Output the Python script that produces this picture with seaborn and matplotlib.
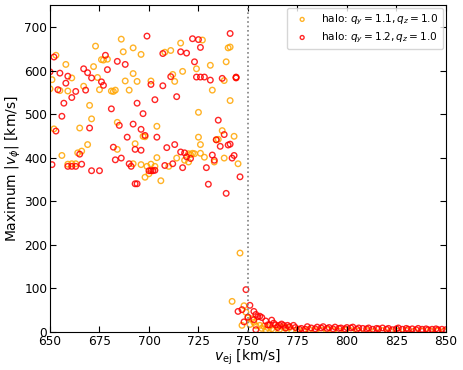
import numpy as np
import matplotlib
matplotlib.use("Agg")
import matplotlib.pyplot as plt
import seaborn as sns

# halo q_y = 1.1, q_z = 1.0  (orange)
v_ej_q11 = [650, 651, 653, 655, 658, 661, 659, 652, 656, 665, 664, 666, 659, 661, 663,
            669, 667, 670, 671, 672, 673, 674, 675, 676, 677, 679, 681, 682, 683, 684,
            686, 687, 688, 684, 690, 692, 692, 692, 694, 696, 693, 697, 698, 696, 698,
            699, 700, 701, 704, 704, 701, 703, 706, 708, 711, 710, 712, 713, 714, 716,
            717, 718, 720, 721, 720, 722, 723, 724, 725, 727, 725, 726, 726, 728, 731,
            732, 733, 734, 735, 737, 738, 739, 740, 741, 738, 743, 744, 745, 741, 746,
            742, 748, 749, 747, 750, 751, 752, 753, 754, 756, 757, 758, 759, 760, 762,
            763, 765, 766, 768, 769, 771, 772, 775, 778, 781, 784, 787, 790, 793, 796,
            799, 802, 806, 810, 814, 818, 822, 826, 830, 834, 838, 842, 846, 849]
vphi_q11 = [558, 579, 635, 554, 614, 583, 553, 466, 405, 468, 411, 415, 385, 386, 386,
            430, 564, 520, 489, 609, 656, 584, 556, 625, 624, 626, 553, 552, 555, 419,
            672, 643, 576, 481, 555, 593, 386, 652, 575, 637, 432, 449, 448, 384, 355,
            380, 363, 576, 472, 400, 385, 380, 347, 642, 646, 380, 591, 575, 399, 663,
            598, 394, 409, 407, 390, 410, 409, 604, 504, 670, 447, 430, 410, 401, 612,
            555, 390, 441, 442, 462, 577, 620, 652, 531, 399, 449, 584, 386, 654, 181,
            70, 60, 45, 15, 32, 17, 30, 22, 14, 15, 8, 13, 5, 10, 7,
            4, 13, 6, 11, 8, 10, 4, 5, 3, 6, 3, 4, 5, 3, 2,
            4, 3, 2, 3, 2, 3, 2, 2, 3, 2, 2, 3, 2, 2]

# halo q_y = 1.2, q_z = 1.0  (red)
v_ej_q12 = [650, 652, 655, 654, 659, 661, 658, 657, 663, 656, 653, 651, 665, 659, 661,
            663, 666, 667, 668, 669, 670, 671, 671, 675, 676, 678, 679, 677, 681, 682,
            683, 684, 686, 688, 685, 689, 690, 691, 692, 693, 694, 694, 693, 696, 696,
            697, 698, 699, 700, 701, 702, 703, 701, 703, 704, 707, 707, 711, 709, 708,
            713, 714, 712, 716, 716, 717, 718, 719, 721, 722, 719, 723, 724, 725, 726,
            726, 728, 729, 730, 731, 732, 733, 735, 734, 736, 737, 738, 739, 741, 740,
            742, 743, 744, 744, 746, 741, 749, 745, 747, 751, 750, 748, 753, 754, 755,
            756, 757, 759, 753, 754, 760, 762, 761, 763, 764, 765, 766, 767, 768, 769,
            770, 771, 773, 774, 776, 777, 779, 780, 782, 784, 785, 787, 788, 790, 791,
            793, 794, 796, 797, 799, 800, 802, 803, 805, 806, 808, 810, 811, 813, 815,
            816, 818, 820, 821, 823, 825, 826, 828, 830, 831, 833, 835, 836, 838, 840,
            841, 843, 845, 846, 848, 850]
vphi_q12 = [597, 631, 594, 556, 587, 538, 571, 525, 552, 495, 461, 384, 408, 380, 380,
            380, 385, 604, 555, 595, 468, 583, 370, 370, 574, 635, 602, 566, 512, 424,
            395, 621, 399, 614, 474, 447, 386, 380, 477, 340, 340, 525, 419, 417, 465,
            501, 451, 679, 370, 370, 370, 371, 568, 533, 447, 565, 639, 586, 423, 382,
            430, 540, 386, 413, 643, 377, 411, 402, 398, 673, 640, 620, 585, 671, 653,
            585, 585, 377, 339, 578, 406, 394, 486, 441, 426, 582, 453, 318, 685, 429,
            399, 405, 585, 583, 356, 431, 97, 47, 51, 61, 34, 23, 47, 40, 35,
            36, 33, 25, 28, 5, 16, 27, 16, 20, 16, 10, 15, 18, 15, 9,
            15, 12, 15, 10, 6, 8, 6, 12, 9, 7, 11, 9, 12, 8, 10,
            7, 11, 8, 9, 7, 10, 9, 11, 6, 9, 8, 7, 9, 6, 8,
            7, 9, 6, 8, 5, 7, 9, 6, 8, 6, 7, 5, 8, 6, 7,
            5, 6, 7, 5, 6, 5]

fig, ax = plt.subplots(figsize=(4.63, 3.70), dpi=100)
fig.subplots_adjust(left=0.108, right=0.963, top=0.986, bottom=0.103)

sns.scatterplot(x=v_ej_q11, y=vphi_q11, ax=ax, s=16, facecolors="none",
                edgecolor="orange", linewidth=1.0, alpha=0.85,
                label=r"halo: $q_y = 1.1, q_z = 1.0$")
sns.scatterplot(x=v_ej_q12, y=vphi_q12, ax=ax, s=16, facecolors="none",
                edgecolor="red", linewidth=1.0, alpha=0.85,
                label=r"halo: $q_y = 1.2, q_z = 1.0$")

ax.axvline(750, color="gray", linestyle=":", linewidth=1.2)

ax.set_xlim(650, 850)
ax.set_ylim(0, 750)
ax.set_xticks(np.arange(650, 851, 25))
ax.set_yticks(np.arange(0, 701, 100))
ax.tick_params(direction="in", top=True, right=True, labelsize=8.7, length=4, pad=2)
ax.set_xlabel(r"$v_{\rm ej}$ [km/s]", fontsize=10, labelpad=0)
ax.set_ylabel(r"Maximum $|v_\phi|$ [km/s]", fontsize=10, labelpad=1)
ax.legend(loc="upper right", fontsize=7.6, markerscale=0.7, handletextpad=0.8,
          labelspacing=0.35, borderaxespad=0.3)

fig.savefig("out.png", dpi=100)
